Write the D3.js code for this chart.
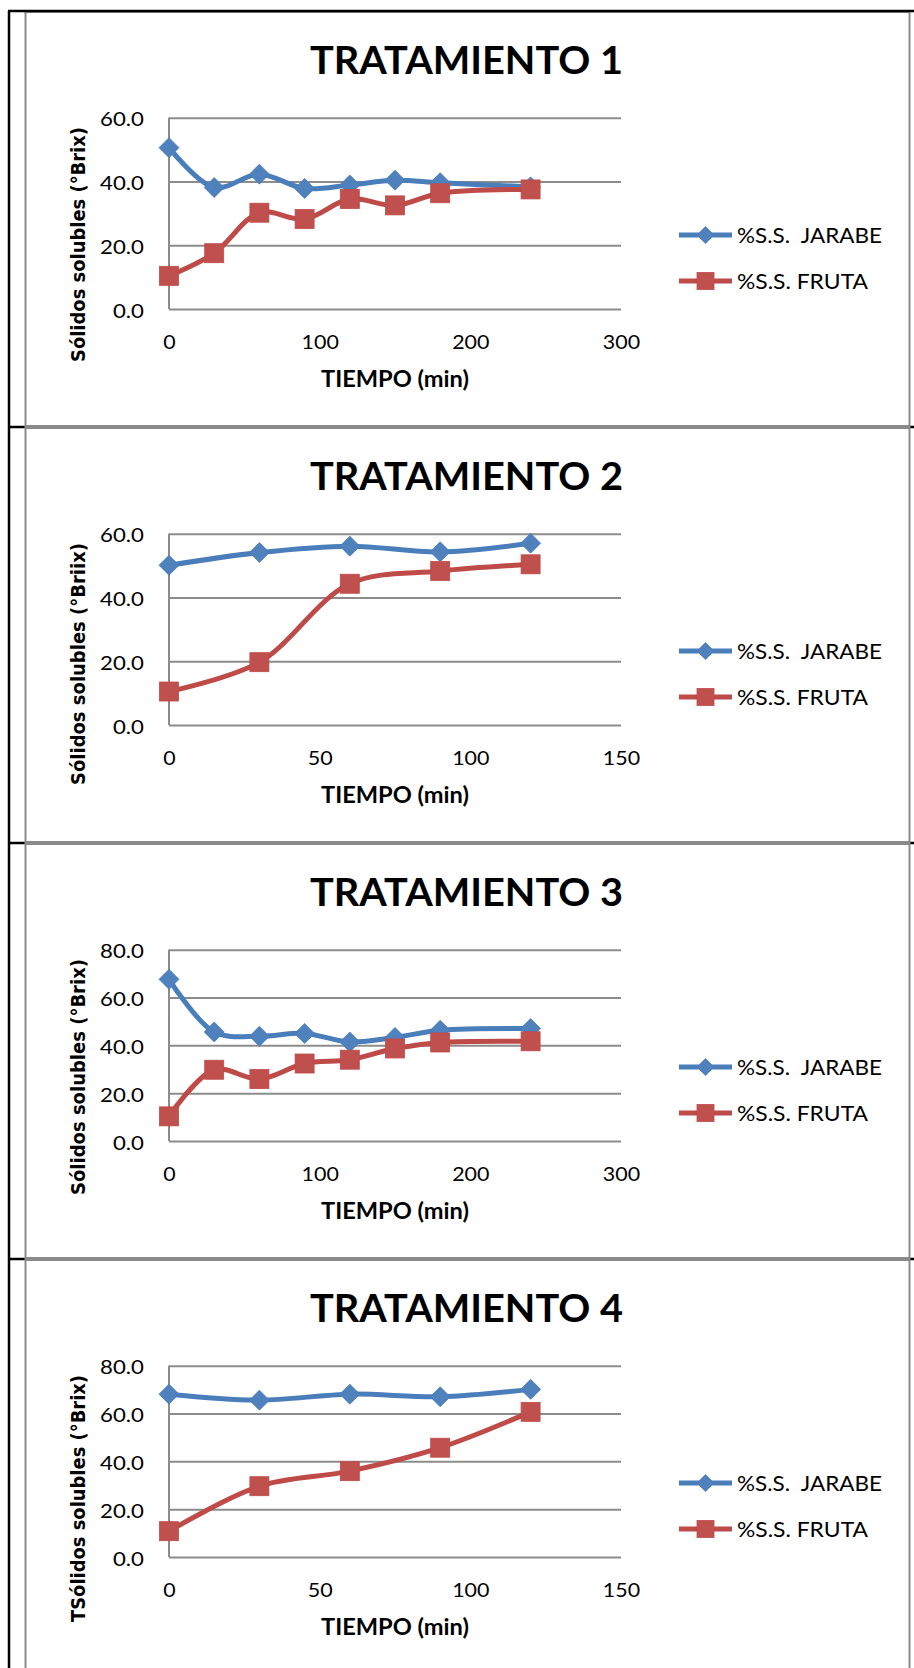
<!DOCTYPE html>
<html lang="es">
<head>
<meta charset="utf-8">
<title>Sólidos solubles por tratamiento</title>
<script src="https://cdn.jsdelivr.net/npm/d3@7"></script>
<style>
  html, body { margin: 0; padding: 0; background: #fff; }
  svg { display: block; }
</style>
</head>
<body>
<div id="chart"></div>
<script>
// Tiempos de muestreo (min)
const tiempoLargo = [0, 30, 60, 90, 120, 150, 180, 240];
const tiempoCorto = [0, 30, 60, 90, 120];

// Sólidos solubles (°Brix) del jarabe y de la fruta, por tratamiento
const jarabeT1 = [50.6, 38.1, 42.3, 37.8, 38.9, 40.4, 39.6, 38.3];
const frutaT1  = [10.4, 17.5, 30.2, 28.2, 34.5, 32.5, 36.3, 37.5];
const jarabeT2 = [50.1, 54.1, 56.1, 54.3, 57.0];
const frutaT2  = [10.5, 19.7, 44.3, 48.3, 50.4];
const jarabeT3 = [67.6, 45.6, 43.8, 45.0, 41.4, 43.3, 46.3, 47.0];
const frutaT3  = [10.3, 29.8, 25.9, 32.4, 34.0, 38.7, 41.2, 41.7];
const jarabeT4 = [68.1, 65.6, 68.1, 67.0, 70.1];
const frutaT4  = [10.8, 29.6, 35.9, 45.7, 60.7];

// Marcas de los ejes
const ticksX300 = [0, 100, 200, 300];
const ticksX150 = [0, 50, 100, 150];
const ticksY60 = [0, 20, 40, 60];
const ticksY80 = [0, 20, 40, 60, 80];

// Textos
const titulos = ["TRATAMIENTO 1", "TRATAMIENTO 2", "TRATAMIENTO 3", "TRATAMIENTO 4"];
const etiquetasY = [
  "Sólidos solubles (°Brix)",
  "Sólidos solubles (°Briix)",
  "Sólidos solubles (°Brix)",
  "TSólidos solubles (°Brix)"
];
const etiquetaX = "TIEMPO (min)";
const serieNombres = ["%S.S.  JARABE", "%S.S. FRUTA"];

const paneles = [
  { titulo: titulos[0], ejeY: etiquetasY[0], t: tiempoLargo, jarabe: jarabeT1, fruta: frutaT1, xt: ticksX300, yt: ticksY60 },
  { titulo: titulos[1], ejeY: etiquetasY[1], t: tiempoCorto, jarabe: jarabeT2, fruta: frutaT2, xt: ticksX150, yt: ticksY60 },
  { titulo: titulos[2], ejeY: etiquetasY[2], t: tiempoLargo, jarabe: jarabeT3, fruta: frutaT3, xt: ticksX300, yt: ticksY80 },
  { titulo: titulos[3], ejeY: etiquetasY[3], t: tiempoCorto, jarabe: jarabeT4, fruta: frutaT4, xt: ticksX150, yt: ticksY80 }
];

// Dimensiones
const W = 914, H = 1668;
const top0 = 11, pitch = 416;
const plotL = 169, plotR = 621;
const plotTop = 106.7, plotBottom = 298;
const grid = "#8c8c8c";
const azul = { line: "#4a7ebb", fill: "#4f81bd" };
const rojo = { line: "#be4b48", fill: "#c0504d" };
const largoEjeY = [235, 242, 236, 247];

const svg = d3.select("#chart").append("svg")
  .attr("width", W).attr("height", H)
  .attr("viewBox", `0 0 ${W} ${H}`);

svg.append("rect").attr("width", W).attr("height", H).attr("fill", "#fff");

// Estira el texto horizontalmente un factor k
function estirar(sel, k) {
  sel.each(function () {
    const w = this.getComputedTextLength();
    this.setAttribute("textLength", (w * k).toFixed(1));
    this.setAttribute("lengthAdjust", "spacingAndGlyphs");
  });
}

// Bordes de la tabla
const tabla = svg.append("g").attr("stroke", "#000").attr("stroke-width", 2.5);
tabla.append("line").attr("x1", 9).attr("x2", 9).attr("y1", top0).attr("y2", H);
paneles.forEach((p, i) => {
  if (i > 0) {
    const y = top0 + i * pitch;
    tabla.append("line").attr("x1", 9).attr("x2", W).attr("y1", y).attr("y2", y);
  }
});

const rombo = s => `M0,${-s}L${s},0L0,${s}L${-s},0Z`;

paneles.forEach((p, i) => {
  const T = top0 + i * pitch;
  const g = svg.append("g").attr("class", "panel");

  // Marco del gráfico
  g.append("rect")
    .attr("x", 25.5).attr("y", T + 1).attr("width", 884).attr("height", 414)
    .attr("fill", "#fff").attr("stroke", "#8a8a8a").attr("stroke-width", 2);

  const x = d3.scaleLinear().domain([0, d3.max(p.xt)]).range([plotL, plotR]);
  const y = d3.scaleLinear().domain([0, d3.max(p.yt)]).range([T + plotBottom, T + plotTop]);

  // Líneas de cuadrícula
  const gy = g.append("g").attr("transform", `translate(${plotL},0)`)
    .call(d3.axisLeft(y).tickValues(p.yt).tickSize(-(plotR - plotL)).tickFormat(""));
  gy.select(".domain").remove();
  gy.selectAll("line").attr("stroke", grid).attr("stroke-width", 2);

  // Eje vertical
  g.append("line")
    .attr("x1", plotL).attr("x2", plotL)
    .attr("y1", y(d3.max(p.yt))).attr("y2", y(0))
    .attr("stroke", grid).attr("stroke-width", 2);

  // Etiquetas del eje Y
  const ly = g.append("g").attr("transform", `translate(${plotL},0)`)
    .call(d3.axisLeft(y).tickValues(p.yt).tickSize(0).tickPadding(25).tickFormat(d3.format(".1f")));
  ly.select(".domain").remove();
  ly.selectAll("text")
    .attr("dy", null).attr("y", 8)
    .attr("font-family", "Lato, 'Open Sans', sans-serif")
    .attr("font-size", 19.5).attr("fill", "#000")
    .call(estirar, 1.14);

  // Etiquetas del eje X
  const lx = g.append("g").attr("transform", `translate(0,${T + plotBottom})`)
    .call(d3.axisBottom(x).tickValues(p.xt).tickSize(0).tickFormat(d3.format("d")));
  lx.select(".domain").remove();
  lx.selectAll("text")
    .attr("dy", null).attr("y", 40)
    .attr("font-family", "Lato, 'Open Sans', sans-serif")
    .attr("font-size", 19.5).attr("fill", "#000")
    .call(estirar, 1.1);

  // Título
  g.append("text")
    .attr("x", 466.5).attr("y", T + 63)
    .attr("text-anchor", "middle")
    .attr("font-family", "Lato, 'Open Sans', sans-serif")
    .attr("font-weight", 700).attr("font-size", 39)
    .attr("textLength", 313).attr("lengthAdjust", "spacingAndGlyphs")
    .text(p.titulo);

  // Título del eje X
  g.append("text")
    .attr("x", 395).attr("y", T + 376)
    .attr("text-anchor", "middle")
    .attr("font-family", "Lato, 'Open Sans', sans-serif")
    .attr("font-weight", 700).attr("font-size", 22)
    .attr("textLength", 148).attr("lengthAdjust", "spacingAndGlyphs")
    .text(etiquetaX);

  // Título del eje Y
  g.append("text")
    .attr("transform", `translate(85,${T + 116}) rotate(-90)`)
    .attr("text-anchor", "end")
    .attr("font-family", "'DejaVu Sans', Verdana, sans-serif")
    .attr("font-weight", 700).attr("font-size", 19.5)
    .attr("textLength", largoEjeY[i]).attr("lengthAdjust", "spacingAndGlyphs")
    .text(p.ejeY);

  // Series
  const linea = d3.line().curve(d3.curveCatmullRom.alpha(0.5))
    .x(d => x(d[0])).y(d => y(d[1]));

  const series = [
    { nombre: serieNombres[0], valores: p.jarabe, color: azul, forma: "rombo" },
    { nombre: serieNombres[1], valores: p.fruta, color: rojo, forma: "cuadrado" }
  ];

  series.forEach(s => {
    const pts = p.t.map((t, j) => [t, s.valores[j]]);
    g.append("path")
      .attr("d", linea(pts))
      .attr("fill", "none")
      .attr("stroke", s.color.line)
      .attr("stroke-width", 5)
      .attr("stroke-linejoin", "round")
      .attr("stroke-linecap", "round");

    const m = g.append("g");
    if (s.forma === "rombo") {
      m.selectAll("path").data(pts).join("path")
        .attr("transform", d => `translate(${x(d[0])},${y(d[1])})`)
        .attr("d", rombo(10))
        .attr("fill", s.color.fill).attr("stroke", s.color.line).attr("stroke-width", 0.8);
    } else {
      m.selectAll("rect").data(pts).join("rect")
        .attr("x", d => x(d[0]) - 9.5).attr("y", d => y(d[1]) - 9.5)
        .attr("width", 19).attr("height", 19)
        .attr("fill", s.color.fill).attr("stroke", s.color.line).attr("stroke-width", 0.8);
    }
  });

  // Leyenda
  const leyY = [T + 224, T + 270];
  const anchos = [145, 131];
  series.forEach((s, k) => {
    const lg = g.append("g").attr("transform", `translate(0,${leyY[k]})`);
    lg.append("line")
      .attr("x1", 679).attr("x2", 732).attr("y1", 0).attr("y2", 0)
      .attr("stroke", s.color.line).attr("stroke-width", 5);
    if (s.forma === "rombo") {
      lg.append("path").attr("transform", "translate(705.5,0)").attr("d", rombo(8.5))
        .attr("fill", s.color.fill).attr("stroke", s.color.line).attr("stroke-width", 0.8);
    } else {
      lg.append("rect").attr("x", 697).attr("y", -8.5).attr("width", 17).attr("height", 17)
        .attr("fill", s.color.fill).attr("stroke", s.color.line).attr("stroke-width", 0.8);
    }
    lg.append("text")
      .attr("x", 737).attr("y", 7.5)
      .attr("font-family", "Lato, 'Open Sans', sans-serif")
      .attr("font-size", 20.5).attr("fill", "#000")
      .style("white-space", "pre")
      .attr("textLength", anchos[k]).attr("lengthAdjust", "spacingAndGlyphs")
      .text(s.nombre);
  });
});

// Borde superior de la tabla
svg.append("line").attr("x1", 8).attr("x2", W).attr("y1", top0).attr("y2", top0)
  .attr("stroke", "#000").attr("stroke-width", 2.5);
</script>
</body>
</html>
